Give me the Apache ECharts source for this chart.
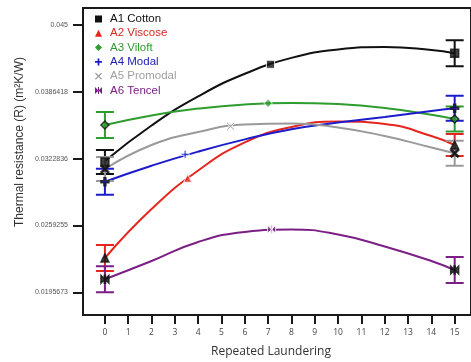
<!DOCTYPE html>
<html><head><meta charset="utf-8">
<script src="https://cdn.jsdelivr.net/npm/echarts@6/dist/echarts.min.js"></script>
<style>html,body{margin:0;padding:0;background:#fff}#c{width:471px;height:362px}</style>
</head><body><div id="c"></div>
<script>
// ---------- data ----------
const seriesNames = ['A1 Cotton','A2 Viscose','A3 Viloft','A4 Modal','A5 Promodal','A6 Tencel'];
const xTicks = [0,1,2,3,4,5,6,7,8,9,10,11,12,13,14,15];
const yTickLabels = ['0.0195673','0.0259255','0.0322836','0.0386418','0.045'];
const yTicks = [0.0195673,0.0259255,0.0322836,0.0386418,0.045];

// fitted curves
const curveX  = [0,2,4,6,8,10,12,14,15];
const curveA1 = [0.032061,0.035438,0.038207,0.040357,0.041870,0.042669,0.042907,0.042621,0.042308];
const curveA2 = [0.022832,0.027494,0.031157,0.033831,0.035296,0.035819,0.035581,0.034439,0.033583];
const curveA3 = [0.035486,0.036399,0.037046,0.037446,0.037589,0.037474,0.037103,0.036466,0.036057];
const curveA4 = [0.030092,0.031614,0.032955,0.034116,0.035086,0.035724,0.036247,0.036818,0.037075];
const curveA5 = [0.031300,0.033583,0.034820,0.035534,0.035629,0.035248,0.034439,0.033345,0.032794];
const curveA6 = [0.020806,0.022547,0.024355,0.025306,0.025544,0.025068,0.023927,0.022547,0.021691];

// measured points (0 and 15 launderings) with error bars
const endX  = [0,15];
const endA1 = [0.031966,0.042308]; const errA1 = [0.00114,0.00124];
const endA2 = [0.022832,0.033583]; const errA2 = [0.00124,0.00105];
const endA3 = [0.035486,0.036057]; const errA3 = [0.00124,0.00119];
const endA4 = [0.030092,0.037075]; const errA4 = [0.00124,0.00119];
const endA5 = [0.031300,0.032794]; const errA5 = [0.00114,0.00119];
const endA6 = [0.020806,0.021691]; const errA6 = [0.00124,0.00124];

// marker placed on each curve
const midX = [7.1,3.55,7.0,3.44,5.39,7.15];
const midY = [0.041260,0.030415,0.037550,0.032698,0.035362,0.025563];

// ---------- styles ----------
const colors = ['#111111','#e4261f','#2e9c2e','#1c1ccc','#9a9a9a','#7b1f85'];
const textColors = ['#111111','#d42a20','#2e9c2e','#1c1cb0','#a0a0a0','#7b1f85'];
const symbols = [
  'rect','triangle','diamond',
  'path://M3,0H5V3H8V5H5V8H3V5H0V3H3Z',
  'path://M1,0L4,3L7,0L8,1L5,4L8,7L7,8L4,5L1,8L0,7L3,4L0,1Z',
  'path://M0,0L4,4L0,8Z M8,0L4,4L8,8Z M3.4,0H4.6V8H3.4Z'
];
const curves = [curveA1,curveA2,curveA3,curveA4,curveA5,curveA6];
const ends = [endA1,endA2,endA3,endA4,endA5,endA6];
const errs = [errA1,errA2,errA3,errA4,errA5,errA6];

function errRender(params, api){
  const x = api.value(0), lo = api.value(1), hi = api.value(2);
  const p1 = api.coord([x, lo]), p2 = api.coord([x, hi]);
  const hw = 9;
  const d = 'M' + (p1[0]-hw) + ' ' + p1[1] + 'L' + (p1[0]+hw) + ' ' + p1[1] +
            'M' + p1[0] + ' ' + p1[1] + 'L' + p2[0] + ' ' + p2[1] +
            'M' + (p2[0]-hw) + ' ' + p2[1] + 'L' + (p2[0]+hw) + ' ' + p2[1];
  return {type:'path', shape:{pathData:d}, style:{stroke: api.visual('color'), fill:null, lineWidth:2}};
}

const series = [];
seriesNames.forEach((name,i)=>{
  series.push({
    name, type:'line', smooth:0.5, showSymbol:false, z:2,
    data: curveX.map((x,k)=>[x, curves[i][k]]),
    lineStyle:{color:colors[i], width:2}, itemStyle:{color:colors[i]}
  });
  series.push({
    name, type:'scatter', z:3, symbol:symbols[i], symbolSize:8,
    data:[[midX[i], midY[i]]],
    itemStyle:{color:colors[i], borderColor:'#fff', borderWidth:1}
  });
});
seriesNames.forEach((name,i)=>{
  series.push({
    name, type:'custom', z:4, renderItem:errRender,
    encode:{x:0, y:[1,2]},
    data: endX.map((x,k)=>[x, ends[i][k]-errs[i][k], ends[i][k]+errs[i][k]]),
    itemStyle:{color:colors[i]}
  });
});
seriesNames.forEach((name,i)=>{
  series.push({
    name, type:'scatter', z:5, symbol:symbols[i], symbolSize:8,
    data: endX.map((x,k)=>[x, ends[i][k]]),
    itemStyle:{color: i===2||i===3 ? colors[i] : '#111', borderColor:'#111', borderWidth:1.5}
  });
});

const chart = echarts.init(document.getElementById('c'), null, {renderer:'canvas'});
chart.setOption({
  animation:false,
  backgroundColor:'#fff',
  grid:{left:83, top:8, right:-2, bottom:47, show:true, borderColor:'#1a1a1a', borderWidth:2, backgroundColor:'transparent'},
  legend:{
    orient:'vertical', left:95, top:13, itemGap:2.3, itemWidth:7, itemHeight:7, padding:0,
    textStyle:{fontFamily:'Liberation Sans, Arial, sans-serif', fontSize:11.5, padding:[0,0,0,3]},
    data: seriesNames.map((n,i)=>({name:n, icon:symbols[i], itemStyle:{color:colors[i]}, textStyle:{color:textColors[i]}}))
  },
  xAxis:{
    type:'value', min:-0.94, max:15.7,
    axisLine:{show:true, onZero:false, lineStyle:{color:'#1a1a1a', width:2}},
    axisTick:{show:true, inside:false, length:9, lineStyle:{color:'#1a1a1a', width:2}, customValues:xTicks},
    axisLabel:{customValues:xTicks, margin:13, fontSize:8.5, color:'#444', fontFamily:'Open Sans, sans-serif'},
    splitLine:{show:false}
  },
  yAxis:{
    type:'value', min:0.017408, max:0.046617,
    axisLine:{show:true, onZero:false, lineStyle:{color:'#1a1a1a', width:2}},
    axisTick:{show:true, inside:false, length:10, lineStyle:{color:'#1a1a1a', width:2}, customValues:yTicks},
    axisLabel:{customValues:yTicks, margin:15, fontSize:7, color:'#555', fontFamily:'Liberation Sans, Arial, sans-serif',
      formatter:(v)=>{let best=0;yTicks.forEach((t,k)=>{if(Math.abs(t-v)<Math.abs(yTicks[best]-v))best=k;});return yTickLabels[best];}},
    splitLine:{show:false}
  },
  graphic:[
    {type:'text', x:20, y:142, rotation:Math.PI/2,
      style:{text:'Thermal resistance (R) (m²K/W)', fill:'#333', font:'12px "Liberation Sans", Arial, sans-serif', align:'center', verticalAlign:'middle'}},
    {type:'text', x:271, y:352,
      style:{text:'Repeated Laundering', fill:'#333', font:'12px "Open Sans", sans-serif', align:'center', verticalAlign:'middle'}}
  ],
  series
});
</script></body></html>
